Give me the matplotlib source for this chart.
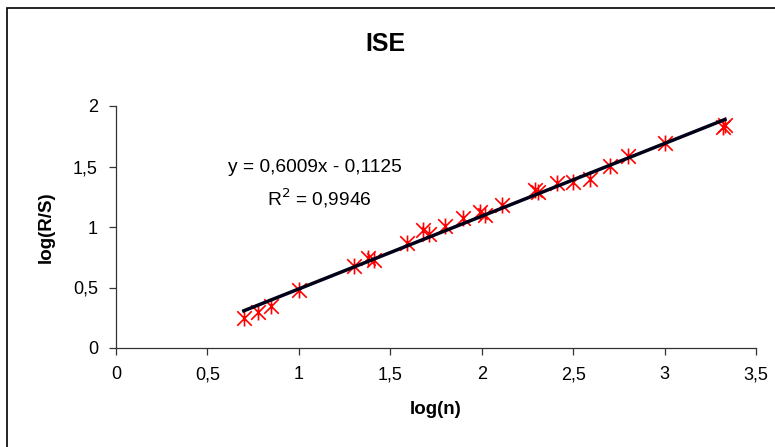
import matplotlib
matplotlib.use('Agg')
import matplotlib.pyplot as plt
from matplotlib.path import Path
from matplotlib.patches import Rectangle
from matplotlib.ticker import FuncFormatter
import numpy as np

plt.rcParams['font.family'] = ['Liberation Sans', 'DejaVu Sans']

# data: log(n) and log(R/S)
log_n = [0.699, 0.778, 0.845, 1.0, 1.301, 1.38, 1.41, 1.59, 1.68, 1.71,
         1.80, 1.90, 1.99, 2.02, 2.11, 2.29, 2.31, 2.41, 2.50, 2.59,
         2.70, 2.80, 3.00, 3.32, 3.33]
log_rs = [0.245, 0.295, 0.35, 0.479, 0.678, 0.741, 0.727, 0.87, 0.975, 0.94,
          1.005, 1.072, 1.12, 1.10, 1.18, 1.306, 1.292, 1.366, 1.374, 1.394,
          1.504, 1.587, 1.697, 1.83, 1.84]

slope = 0.6009
intercept = -0.1125
r2 = 0.9946

x_ticks = [0, 0.5, 1, 1.5, 2, 2.5, 3, 3.5]
y_ticks = [0, 0.5, 1, 1.5, 2]


def comma(v, pos=None):
    s = ('%g' % v)
    return s.replace('.', ',')


# Excel style star marker: an X with a vertical bar
star = Path([(-1, -1), (1, 1), (-1, 1), (1, -1), (0, -1.1), (0, 1.1)],
            [Path.MOVETO, Path.LINETO, Path.MOVETO, Path.LINETO,
             Path.MOVETO, Path.LINETO])

W, H = 775, 447
fig = plt.figure(figsize=(W / 100, H / 100), dpi=100)
fig.patches.append(Rectangle((7 / W, -0.1), 1.2, 1 - 8 / H + 0.1,
                             transform=fig.transFigure, fill=False,
                             edgecolor='black', linewidth=1.2))

ax = fig.add_axes([116 / W, (H - 348) / H, 640 / W, 242 / H])
ax.set_xlim(0, 3.5)
ax.set_ylim(0, 2)

ax.plot(log_n, log_rs, linestyle='none', marker=star, markersize=11.5,
        markeredgecolor='#ff0000', markeredgewidth=1.2, zorder=3)

xl = np.array([min(log_n), max(log_n)])
ax.plot(xl, slope * xl + intercept, color='#000018', linewidth=2.5, zorder=4)

for s in ['top', 'right']:
    ax.spines[s].set_visible(False)
for s in ['left', 'bottom']:
    ax.spines[s].set_color('#333333')
    ax.spines[s].set_linewidth(0.9)

ax.set_xticks(x_ticks)
ax.set_yticks(y_ticks)
ax.xaxis.set_major_formatter(FuncFormatter(comma))
ax.yaxis.set_major_formatter(FuncFormatter(comma))
ax.tick_params(direction='out', length=5, width=0.9, color='#333333',
               labelsize=13, pad=8)

ax.set_xlabel('log(n)', fontsize=13.5, fontweight='bold', labelpad=13)
ax.set_ylabel('log(R/S)', fontsize=13.5, fontweight='bold', labelpad=13)

fig.text(385 / W, 1 - 44 / H, 'ISE', ha='center', va='center',
         fontsize=18, fontweight='bold')

fig.text(315 / W, 1 - 168 / H,
         'y = ' + comma(slope) + 'x - ' + comma(-intercept),
         ha='center', va='center', fontsize=13.8)
fig.text(319 / W, 1 - 198 / H, 'R$^2$ = ' + comma(r2),
         ha='center', va='center', fontsize=13.8)

fig.savefig('out.png', dpi=100)
